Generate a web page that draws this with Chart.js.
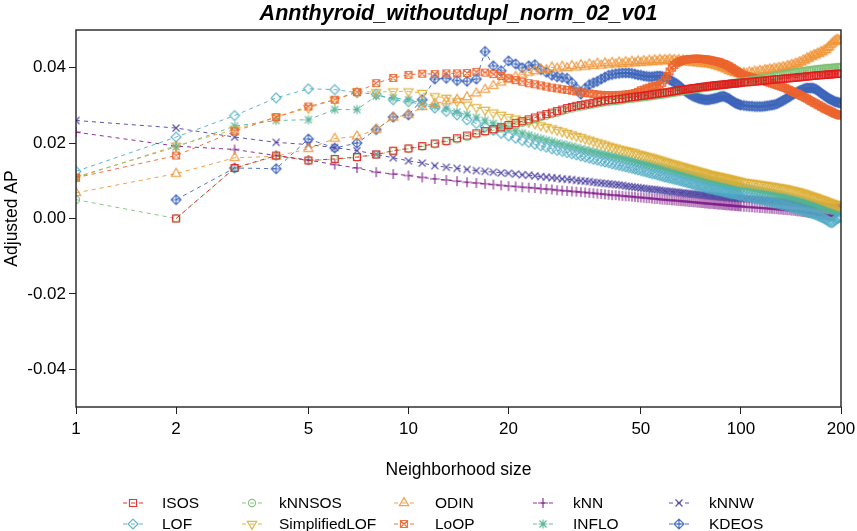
<!DOCTYPE html>
<html>
<head>
<meta charset="utf-8">
<script src="https://cdn.jsdelivr.net/npm/chart.js@4.4.1/dist/chart.umd.min.js"></script>
<style>
  html, body { margin: 0; padding: 0; background: #fff; }
  canvas { display: block; }
</style>
</head>
<body>
<canvas id="chart" width="857" height="531"></canvas>
<script>
const chartTitle = "Annthyroid_withoutdupl_norm_02_v01";
const xTitle = "Neighborhood size";
const yTitle = "Adjusted AP";
const xTicks = [1, 2, 5, 10, 20, 50, 100, 200];
const yTicks = [-0.04, -0.02, 0, 0.02, 0.04];

// neighborhood sizes k
const sizes = [
  1, 2, 3, 4, 5, 6, 7, 8, 9, 10,
  11, 12, 13, 14, 15, 16, 17, 18, 19, 20,
  21, 22, 23, 24, 25, 26, 27, 28, 29, 30,
  31, 32, 33, 34, 35, 36, 37, 38, 39, 40,
  41, 42, 43, 44, 45, 46, 47, 48, 49, 50,
  51, 52, 53, 54, 55, 56, 57, 58, 59, 60,
  61, 62, 63, 64, 65, 66, 67, 68, 69, 70,
  71, 72, 73, 74, 75, 76, 77, 78, 79, 80,
  81, 82, 83, 84, 85, 86, 87, 88, 89, 90,
  91, 92, 93, 94, 95, 96, 97, 98, 99, 100,
  102, 104, 106, 108, 110, 112, 114, 116, 118, 120,
  122, 124, 126, 128, 130, 132, 134, 136, 138, 140,
  142, 144, 146, 148, 150, 152, 154, 156, 158, 160,
  162, 164, 166, 168, 170, 172, 174, 176, 178, 180,
  182, 184, 186, 188, 190, 192, 194, 196, 198, 200
];

const isos = [
  null, 0.0000, 0.0134, 0.0167, 0.0154, 0.0158, 0.0163, 0.0170, 0.0180, 0.0186,
  0.0192, 0.0199, 0.0206, 0.0213, 0.0220, 0.0226, 0.0232, 0.0237, 0.0242, 0.0248,
  0.0253, 0.0258, 0.0263, 0.0268, 0.0273, 0.0277, 0.0281, 0.0285, 0.0289, 0.0293,
  0.0296, 0.0299, 0.0301, 0.0303, 0.0305, 0.0307, 0.0309, 0.0311, 0.0313, 0.0314,
  0.0315, 0.0316, 0.0317, 0.0318, 0.0320, 0.0321, 0.0322, 0.0323, 0.0324, 0.0325,
  0.0326, 0.0327, 0.0328, 0.0329, 0.0330, 0.0331, 0.0332, 0.0333, 0.0334, 0.0335,
  0.0336, 0.0337, 0.0338, 0.0339, 0.0340, 0.0341, 0.0342, 0.0343, 0.0343, 0.0344,
  0.0345, 0.0346, 0.0346, 0.0347, 0.0348, 0.0349, 0.0349, 0.0350, 0.0350, 0.0351,
  0.0352, 0.0352, 0.0353, 0.0353, 0.0354, 0.0354, 0.0355, 0.0355, 0.0355, 0.0356,
  0.0356, 0.0357, 0.0357, 0.0358, 0.0358, 0.0358, 0.0359, 0.0359, 0.0360, 0.0360,
  0.0361, 0.0361, 0.0362, 0.0363, 0.0363, 0.0364, 0.0365, 0.0365, 0.0366, 0.0367,
  0.0367, 0.0368, 0.0369, 0.0369, 0.0370, 0.0370, 0.0371, 0.0371, 0.0372, 0.0372,
  0.0373, 0.0373, 0.0374, 0.0374, 0.0375, 0.0375, 0.0376, 0.0376, 0.0377, 0.0377,
  0.0378, 0.0378, 0.0379, 0.0379, 0.0380, 0.0380, 0.0380, 0.0381, 0.0381, 0.0381,
  0.0382, 0.0382, 0.0382, 0.0383, 0.0383, 0.0383, 0.0384, 0.0384, 0.0384, 0.0384
];

const knnsos = [
  0.0050, 0.0000, 0.0133, 0.0166, 0.0154, 0.0157, 0.0162, 0.0169, 0.0179, 0.0185,
  0.0191, 0.0197, 0.0204, 0.0210, 0.0217, 0.0223, 0.0229, 0.0234, 0.0239, 0.0244,
  0.0249, 0.0254, 0.0259, 0.0264, 0.0269, 0.0273, 0.0277, 0.0281, 0.0285, 0.0289,
  0.0292, 0.0295, 0.0297, 0.0299, 0.0301, 0.0303, 0.0305, 0.0307, 0.0309, 0.0310,
  0.0311, 0.0312, 0.0313, 0.0314, 0.0316, 0.0317, 0.0318, 0.0319, 0.0320, 0.0321,
  0.0322, 0.0323, 0.0324, 0.0325, 0.0326, 0.0327, 0.0328, 0.0329, 0.0330, 0.0331,
  0.0332, 0.0333, 0.0334, 0.0335, 0.0336, 0.0337, 0.0338, 0.0339, 0.0340, 0.0341,
  0.0342, 0.0343, 0.0343, 0.0344, 0.0345, 0.0346, 0.0346, 0.0347, 0.0348, 0.0349,
  0.0349, 0.0350, 0.0351, 0.0351, 0.0352, 0.0353, 0.0353, 0.0354, 0.0355, 0.0355,
  0.0356, 0.0357, 0.0357, 0.0358, 0.0359, 0.0359, 0.0360, 0.0361, 0.0361, 0.0362,
  0.0363, 0.0365, 0.0366, 0.0367, 0.0368, 0.0369, 0.0371, 0.0372, 0.0373, 0.0374,
  0.0375, 0.0376, 0.0378, 0.0379, 0.0380, 0.0381, 0.0382, 0.0383, 0.0384, 0.0385,
  0.0386, 0.0387, 0.0388, 0.0388, 0.0389, 0.0390, 0.0391, 0.0391, 0.0392, 0.0393,
  0.0393, 0.0394, 0.0395, 0.0395, 0.0396, 0.0396, 0.0397, 0.0397, 0.0398, 0.0398,
  0.0399, 0.0399, 0.0399, 0.0400, 0.0400, 0.0400, 0.0401, 0.0401, 0.0401, 0.0401
];

const odin = [
  0.0068, 0.0119, 0.0161, 0.0165, 0.0185, 0.0212, 0.0218, 0.0236, 0.0268, 0.0275,
  0.0296, 0.0305, 0.0311, 0.0315, 0.0322, 0.0332, 0.0342, 0.0352, 0.0361, 0.0369,
  0.0376, 0.0382, 0.0387, 0.0391, 0.0396, 0.0394, 0.0401, 0.0398, 0.0403, 0.0399,
  0.0405, 0.0401, 0.0407, 0.0403, 0.0409, 0.0405, 0.0411, 0.0406, 0.0412, 0.0408,
  0.0413, 0.0409, 0.0414, 0.0410, 0.0415, 0.0411, 0.0416, 0.0412, 0.0417, 0.0413,
  0.0418, 0.0414, 0.0419, 0.0415, 0.0420, 0.0416, 0.0421, 0.0417, 0.0421, 0.0418,
  0.0422, 0.0418, 0.0421, 0.0417, 0.0421, 0.0416, 0.0420, 0.0415, 0.0419, 0.0414,
  0.0418, 0.0413, 0.0417, 0.0412, 0.0416, 0.0411, 0.0415, 0.0410, 0.0414, 0.0409,
  0.0412, 0.0407, 0.0410, 0.0405, 0.0407, 0.0402, 0.0404, 0.0399, 0.0400, 0.0396,
  0.0396, 0.0392, 0.0393, 0.0389, 0.0390, 0.0386, 0.0388, 0.0384, 0.0386, 0.0383,
  0.0386, 0.0384, 0.0388, 0.0386, 0.0390, 0.0388, 0.0392, 0.0390, 0.0394, 0.0393,
  0.0396, 0.0394, 0.0398, 0.0396, 0.0400, 0.0398, 0.0402, 0.0400, 0.0405, 0.0403,
  0.0408, 0.0406, 0.0411, 0.0410, 0.0415, 0.0414, 0.0420, 0.0419, 0.0425, 0.0424,
  0.0430, 0.0429, 0.0434, 0.0433, 0.0438, 0.0437, 0.0442, 0.0441, 0.0446, 0.0447,
  0.0452, 0.0455, 0.0460, 0.0464, 0.0468, 0.0471, 0.0474, 0.0473, 0.0472, 0.0470
];

const knn = [
  0.0229, 0.0192, 0.0183, 0.0167, 0.0155, 0.0143, 0.0134, 0.0123, 0.0118, 0.0114,
  0.0109, 0.0105, 0.0102, 0.0099, 0.0096, 0.0094, 0.0092, 0.0090, 0.0088, 0.0086,
  0.0085, 0.0083, 0.0082, 0.0081, 0.0079, 0.0078, 0.0077, 0.0075, 0.0074, 0.0073,
  0.0072, 0.0071, 0.0070, 0.0069, 0.0068, 0.0067, 0.0066, 0.0065, 0.0064, 0.0063,
  0.0062, 0.0062, 0.0061, 0.0060, 0.0059, 0.0059, 0.0058, 0.0057, 0.0056, 0.0056,
  0.0055, 0.0054, 0.0054, 0.0053, 0.0052, 0.0052, 0.0051, 0.0050, 0.0050, 0.0049,
  0.0049, 0.0048, 0.0048, 0.0047, 0.0047, 0.0046, 0.0046, 0.0045, 0.0045, 0.0044,
  0.0044, 0.0043, 0.0043, 0.0042, 0.0042, 0.0041, 0.0041, 0.0040, 0.0040, 0.0039,
  0.0039, 0.0039, 0.0038, 0.0038, 0.0037, 0.0037, 0.0037, 0.0036, 0.0036, 0.0035,
  0.0035, 0.0035, 0.0034, 0.0034, 0.0034, 0.0033, 0.0033, 0.0033, 0.0032, 0.0032,
  0.0031, 0.0031, 0.0030, 0.0030, 0.0029, 0.0029, 0.0028, 0.0028, 0.0027, 0.0027,
  0.0026, 0.0026, 0.0025, 0.0025, 0.0024, 0.0024, 0.0023, 0.0023, 0.0022, 0.0022,
  0.0021, 0.0021, 0.0020, 0.0019, 0.0019, 0.0018, 0.0017, 0.0017, 0.0016, 0.0015,
  0.0015, 0.0014, 0.0013, 0.0013, 0.0012, 0.0011, 0.0011, 0.0010, 0.0009, 0.0009,
  0.0008, 0.0008, 0.0007, 0.0007, 0.0009, 0.0014, 0.0020, 0.0024, 0.0027, 0.0028
];

const knnw = [
  0.0260, 0.0240, 0.0216, 0.0202, 0.0196, 0.0188, 0.0180, 0.0170, 0.0161, 0.0153,
  0.0147, 0.0140, 0.0136, 0.0133, 0.0130, 0.0127, 0.0125, 0.0123, 0.0121, 0.0120,
  0.0118, 0.0116, 0.0115, 0.0113, 0.0111, 0.0110, 0.0108, 0.0107, 0.0105, 0.0104,
  0.0103, 0.0101, 0.0100, 0.0099, 0.0098, 0.0096, 0.0095, 0.0094, 0.0093, 0.0092,
  0.0091, 0.0090, 0.0089, 0.0088, 0.0086, 0.0085, 0.0084, 0.0083, 0.0082, 0.0081,
  0.0080, 0.0079, 0.0078, 0.0077, 0.0077, 0.0076, 0.0075, 0.0074, 0.0073, 0.0072,
  0.0072, 0.0071, 0.0070, 0.0070, 0.0069, 0.0068, 0.0068, 0.0067, 0.0066, 0.0066,
  0.0065, 0.0065, 0.0064, 0.0064, 0.0063, 0.0063, 0.0062, 0.0062, 0.0061, 0.0061,
  0.0060, 0.0060, 0.0059, 0.0059, 0.0059, 0.0058, 0.0058, 0.0057, 0.0057, 0.0057,
  0.0056, 0.0056, 0.0056, 0.0055, 0.0055, 0.0055, 0.0054, 0.0054, 0.0054, 0.0053,
  0.0053, 0.0052, 0.0052, 0.0051, 0.0051, 0.0050, 0.0050, 0.0049, 0.0049, 0.0048,
  0.0048, 0.0047, 0.0047, 0.0046, 0.0046, 0.0045, 0.0045, 0.0044, 0.0044, 0.0043,
  0.0043, 0.0042, 0.0042, 0.0041, 0.0041, 0.0040, 0.0040, 0.0039, 0.0039, 0.0038,
  0.0037, 0.0037, 0.0036, 0.0036, 0.0035, 0.0034, 0.0034, 0.0033, 0.0032, 0.0032,
  0.0031, 0.0030, 0.0030, 0.0029, 0.0029, 0.0028, 0.0028, 0.0029, 0.0030, 0.0030
];

const lof = [
  0.0125, 0.0216, 0.0273, 0.0320, 0.0344, 0.0342, 0.0334, 0.0330, 0.0315, 0.0310,
  0.0302, 0.0293, 0.0284, 0.0275, 0.0262, 0.0252, 0.0243, 0.0234, 0.0226, 0.0219,
  0.0213, 0.0207, 0.0202, 0.0197, 0.0193, 0.0189, 0.0185, 0.0181, 0.0178, 0.0175,
  0.0172, 0.0169, 0.0166, 0.0163, 0.0160, 0.0157, 0.0155, 0.0152, 0.0150, 0.0148,
  0.0145, 0.0143, 0.0141, 0.0139, 0.0137, 0.0135, 0.0133, 0.0131, 0.0129, 0.0127,
  0.0125, 0.0123, 0.0121, 0.0119, 0.0118, 0.0116, 0.0114, 0.0112, 0.0110, 0.0109,
  0.0107, 0.0106, 0.0104, 0.0103, 0.0101, 0.0100, 0.0098, 0.0097, 0.0095, 0.0094,
  0.0092, 0.0091, 0.0089, 0.0088, 0.0087, 0.0085, 0.0084, 0.0083, 0.0081, 0.0080,
  0.0079, 0.0078, 0.0077, 0.0076, 0.0075, 0.0074, 0.0073, 0.0072, 0.0071, 0.0070,
  0.0069, 0.0068, 0.0067, 0.0066, 0.0066, 0.0065, 0.0064, 0.0063, 0.0062, 0.0061,
  0.0060, 0.0058, 0.0057, 0.0055, 0.0054, 0.0052, 0.0051, 0.0049, 0.0048, 0.0046,
  0.0045, 0.0043, 0.0042, 0.0040, 0.0039, 0.0037, 0.0036, 0.0034, 0.0033, 0.0031,
  0.0030, 0.0028, 0.0027, 0.0025, 0.0024, 0.0022, 0.0021, 0.0019, 0.0018, 0.0016,
  0.0015, 0.0013, 0.0012, 0.0010, 0.0008, 0.0006, 0.0004, 0.0002, 0.0000, -0.0002,
  -0.0005, -0.0008, -0.0010, -0.0011, -0.0008, -0.0004, -0.0001, 0.0001, 0.0002, 0.0003
];

const simplifiedLof = [
  0.0108, 0.0193, 0.0236, 0.0269, 0.0293, 0.0315, 0.0337, 0.0335, 0.0337, 0.0337,
  0.0333, 0.0324, 0.0320, 0.0311, 0.0302, 0.0295, 0.0288, 0.0281, 0.0275, 0.0269,
  0.0265, 0.0260, 0.0256, 0.0252, 0.0247, 0.0243, 0.0239, 0.0235, 0.0231, 0.0227,
  0.0223, 0.0219, 0.0216, 0.0212, 0.0209, 0.0205, 0.0202, 0.0199, 0.0196, 0.0193,
  0.0190, 0.0188, 0.0185, 0.0183, 0.0181, 0.0179, 0.0177, 0.0175, 0.0172, 0.0170,
  0.0168, 0.0166, 0.0164, 0.0162, 0.0160, 0.0158, 0.0156, 0.0154, 0.0152, 0.0150,
  0.0148, 0.0146, 0.0145, 0.0143, 0.0141, 0.0139, 0.0138, 0.0136, 0.0134, 0.0133,
  0.0131, 0.0130, 0.0128, 0.0127, 0.0125, 0.0124, 0.0123, 0.0121, 0.0120, 0.0118,
  0.0117, 0.0116, 0.0115, 0.0114, 0.0113, 0.0112, 0.0111, 0.0110, 0.0109, 0.0108,
  0.0107, 0.0106, 0.0105, 0.0104, 0.0103, 0.0102, 0.0101, 0.0100, 0.0099, 0.0098,
  0.0097, 0.0096, 0.0095, 0.0094, 0.0093, 0.0092, 0.0091, 0.0090, 0.0089, 0.0088,
  0.0087, 0.0086, 0.0085, 0.0084, 0.0083, 0.0082, 0.0081, 0.0080, 0.0079, 0.0077,
  0.0076, 0.0075, 0.0073, 0.0072, 0.0071, 0.0069, 0.0068, 0.0066, 0.0064, 0.0063,
  0.0061, 0.0060, 0.0058, 0.0057, 0.0055, 0.0053, 0.0052, 0.0050, 0.0049, 0.0047,
  0.0045, 0.0044, 0.0042, 0.0041, 0.0039, 0.0038, 0.0037, 0.0035, 0.0034, 0.0034
];

const loop = [
  0.0108, 0.0167, 0.0231, 0.0269, 0.0297, 0.0315, 0.0335, 0.0359, 0.0373, 0.0381,
  0.0384, 0.0383, 0.0385, 0.0385, 0.0386, 0.0389, 0.0387, 0.0383, 0.0378, 0.0372,
  0.0367, 0.0363, 0.0359, 0.0356, 0.0353, 0.0350, 0.0347, 0.0345, 0.0343, 0.0341,
  0.0339, 0.0337, 0.0335, 0.0333, 0.0332, 0.0330, 0.0329, 0.0328, 0.0327, 0.0327,
  0.0327, 0.0327, 0.0328, 0.0328, 0.0329, 0.0330, 0.0331, 0.0333, 0.0336, 0.0340,
  0.0342, 0.0345, 0.0347, 0.0350, 0.0351, 0.0352, 0.0355, 0.0360, 0.0368, 0.0378,
  0.0390, 0.0400, 0.0407, 0.0412, 0.0415, 0.0418, 0.0420, 0.0421, 0.0422, 0.0423,
  0.0423, 0.0424, 0.0424, 0.0424, 0.0424, 0.0423, 0.0423, 0.0422, 0.0422, 0.0421,
  0.0420, 0.0419, 0.0418, 0.0417, 0.0416, 0.0415, 0.0413, 0.0411, 0.0410, 0.0408,
  0.0406, 0.0404, 0.0401, 0.0399, 0.0396, 0.0393, 0.0391, 0.0388, 0.0386, 0.0384,
  0.0381, 0.0378, 0.0376, 0.0374, 0.0372, 0.0370, 0.0368, 0.0366, 0.0364, 0.0362,
  0.0360, 0.0358, 0.0356, 0.0354, 0.0352, 0.0350, 0.0348, 0.0346, 0.0343, 0.0341,
  0.0338, 0.0336, 0.0333, 0.0331, 0.0328, 0.0325, 0.0323, 0.0320, 0.0318, 0.0315,
  0.0312, 0.0310, 0.0307, 0.0305, 0.0302, 0.0300, 0.0297, 0.0295, 0.0292, 0.0290,
  0.0288, 0.0286, 0.0284, 0.0282, 0.0280, 0.0278, 0.0277, 0.0275, 0.0274, 0.0273
];

const inflo = [
  0.0110, 0.0190, 0.0245, 0.0260, 0.0262, 0.0289, 0.0289, 0.0325, 0.0320, 0.0315,
  0.0306, 0.0298, 0.0292, 0.0282, 0.0276, 0.0268, 0.0260, 0.0252, 0.0245, 0.0238,
  0.0232, 0.0226, 0.0221, 0.0216, 0.0212, 0.0208, 0.0204, 0.0200, 0.0197, 0.0194,
  0.0191, 0.0188, 0.0185, 0.0182, 0.0180, 0.0177, 0.0175, 0.0172, 0.0170, 0.0168,
  0.0166, 0.0164, 0.0162, 0.0160, 0.0158, 0.0156, 0.0154, 0.0152, 0.0150, 0.0148,
  0.0146, 0.0144, 0.0143, 0.0141, 0.0139, 0.0137, 0.0136, 0.0134, 0.0132, 0.0131,
  0.0129, 0.0128, 0.0126, 0.0125, 0.0123, 0.0122, 0.0120, 0.0119, 0.0117, 0.0116,
  0.0114, 0.0113, 0.0112, 0.0110, 0.0109, 0.0108, 0.0106, 0.0105, 0.0104, 0.0102,
  0.0101, 0.0100, 0.0099, 0.0098, 0.0097, 0.0096, 0.0095, 0.0094, 0.0093, 0.0092,
  0.0091, 0.0090, 0.0089, 0.0088, 0.0088, 0.0087, 0.0086, 0.0085, 0.0084, 0.0083,
  0.0082, 0.0080, 0.0079, 0.0077, 0.0076, 0.0075, 0.0073, 0.0072, 0.0071, 0.0070,
  0.0068, 0.0067, 0.0066, 0.0064, 0.0063, 0.0062, 0.0060, 0.0059, 0.0058, 0.0056,
  0.0055, 0.0054, 0.0052, 0.0051, 0.0049, 0.0048, 0.0047, 0.0045, 0.0044, 0.0042,
  0.0041, 0.0039, 0.0038, 0.0036, 0.0035, 0.0033, 0.0032, 0.0030, 0.0029, 0.0027,
  0.0026, 0.0025, 0.0023, 0.0022, 0.0021, 0.0020, 0.0019, 0.0018, 0.0017, 0.0016
];

const kdeos = [
  null, 0.0050, 0.0134, 0.0132, 0.0211, 0.0187, 0.0200, 0.0236, 0.0269, 0.0275,
  0.0315, 0.0370, 0.0372, 0.0366, 0.0364, 0.0370, 0.0443, 0.0405, 0.0392, 0.0418,
  0.0410, 0.0400, 0.0405, 0.0408, 0.0395, 0.0388, 0.0380, 0.0376, 0.0374, 0.0372,
  0.0360, 0.0345, 0.0330, 0.0345, 0.0355, 0.0360, 0.0364, 0.0370, 0.0375, 0.0380,
  0.0382, 0.0384, 0.0385, 0.0386, 0.0386, 0.0386, 0.0385, 0.0383, 0.0381, 0.0380,
  0.0378, 0.0377, 0.0376, 0.0376, 0.0377, 0.0378, 0.0378, 0.0377, 0.0375, 0.0372,
  0.0368, 0.0365, 0.0361, 0.0358, 0.0353, 0.0348, 0.0343, 0.0338, 0.0334, 0.0330,
  0.0327, 0.0324, 0.0322, 0.0320, 0.0318, 0.0317, 0.0316, 0.0315, 0.0315, 0.0315,
  0.0316, 0.0317, 0.0318, 0.0319, 0.0320, 0.0322, 0.0323, 0.0324, 0.0324, 0.0322,
  0.0320, 0.0318, 0.0315, 0.0312, 0.0310, 0.0307, 0.0305, 0.0304, 0.0302, 0.0301,
  0.0300, 0.0299, 0.0298, 0.0298, 0.0297, 0.0297, 0.0297, 0.0297, 0.0298, 0.0299,
  0.0300, 0.0301, 0.0302, 0.0304, 0.0307, 0.0310, 0.0313, 0.0316, 0.0320, 0.0323,
  0.0327, 0.0330, 0.0333, 0.0336, 0.0339, 0.0341, 0.0343, 0.0345, 0.0346, 0.0346,
  0.0346, 0.0346, 0.0345, 0.0343, 0.0340, 0.0337, 0.0333, 0.0330, 0.0327, 0.0324,
  0.0321, 0.0318, 0.0316, 0.0314, 0.0312, 0.0310, 0.0309, 0.0308, 0.0307, 0.0306
];

const FONT = '"Liberation Sans", Arial, Helvetica, sans-serif';

// R-like plotting symbols drawn once on small canvases
function makeMarker(pch, rgb) {
  const c = document.createElement("canvas");
  c.width = 16;
  c.height = 16;
  const g = c.getContext("2d");
  g.strokeStyle = `rgba(${rgb},0.9)`;
  g.lineWidth = 1.2;
  const x = 8, y = 8, s = 3.5, d = s * Math.SQRT2;
  const square = () => g.rect(x - s, y - s, 2 * s, 2 * s);
  const diamond = () => {
    g.moveTo(x, y - d); g.lineTo(x + d, y); g.lineTo(x, y + d); g.lineTo(x - d, y); g.closePath();
  };
  const plus = (r) => { g.moveTo(x - r, y); g.lineTo(x + r, y); g.moveTo(x, y - r); g.lineTo(x, y + r); };
  const times = (r) => { g.moveTo(x - r, y - r); g.lineTo(x + r, y + r); g.moveTo(x + r, y - r); g.lineTo(x - r, y + r); };
  g.beginPath();
  switch (pch) {
    case 0: square(); break;
    case 1: g.arc(x, y, 3.6, 0, Math.PI * 2); break;
    case 2: g.moveTo(x, y - 5.4); g.lineTo(x + 4.7, y + 2.7); g.lineTo(x - 4.7, y + 2.7); g.closePath(); break;
    case 3: plus(d); break;
    case 4: times(s); break;
    case 5: diamond(); break;
    case 6: g.moveTo(x, y + 5.4); g.lineTo(x + 4.7, y - 2.7); g.lineTo(x - 4.7, y - 2.7); g.closePath(); break;
    case 7: square(); times(s); break;
    case 8: plus(4.4); times(s); break;
    case 9: diamond(); plus(d); break;
  }
  g.stroke();
  return c;
}

const series = [
  { name: "ISOS", values: isos, rgb: "226,30,30", pch: 0, order: 0 },
  { name: "kNNSOS", values: knnsos, rgb: "122,192,112", pch: 1, order: 1 },
  { name: "ODIN", values: odin, rgb: "240,150,58", pch: 2, order: 3 },
  { name: "kNN", values: knn, rgb: "130,30,140", pch: 3, order: 7 },
  { name: "kNNW", values: knnw, rgb: "75,65,160", pch: 4, order: 8 },
  { name: "LOF", values: lof, rgb: "80,172,196", pch: 5, order: 5 },
  { name: "SimplifiedLOF", values: simplifiedLof, rgb: "222,175,55", pch: 6, order: 4 },
  { name: "LoOP", values: loop, rgb: "236,100,45", pch: 7, order: 2 },
  { name: "INFLO", values: inflo, rgb: "84,180,150", pch: 8, order: 6 },
  { name: "KDEOS", values: kdeos, rgb: "60,100,185", pch: 9, order: 9 },
];
series.forEach((s) => { s.icon = makeMarker(s.pch, s.rgb); });

const legendRows = [
  ["ISOS", "kNNSOS", "ODIN", "kNN", "kNNW"],
  ["LOF", "SimplifiedLOF", "LoOP", "INFLO", "KDEOS"],
];

const decorations = {
  id: "decorations",
  afterDraw(chart) {
    const { ctx, chartArea: a } = chart;
    const cx = (a.left + a.right) / 2;
    ctx.save();
    ctx.strokeStyle = "#222";
    ctx.lineWidth = 1.4;
    ctx.setLineDash([]);
    ctx.strokeRect(a.left, a.top, a.right - a.left, a.bottom - a.top);

    ctx.fillStyle = "#000";
    ctx.textAlign = "center";
    ctx.textBaseline = "alphabetic";
    ctx.font = `italic bold 21.5px ${FONT}`;
    ctx.fillText(chartTitle, cx, 20);

    ctx.font = `17.5px ${FONT}`;
    ctx.fillText(xTitle, cx, 475);

    ctx.save();
    ctx.translate(17, (a.top + a.bottom) / 2);
    ctx.rotate(-Math.PI / 2);
    ctx.fillText(yTitle, 0, 0);
    ctx.restore();

    // legend
    const markerX = [133, 252, 404, 543, 679];
    const textX = [162, 279, 435, 573, 709];
    const rowY = [503, 524];
    ctx.font = `15.5px ${FONT}`;
    ctx.textAlign = "left";
    ctx.textBaseline = "middle";
    legendRows.forEach((row, r) => {
      row.forEach((name, c) => {
        const s = series.find((d) => d.name === name);
        const y = rowY[r];
        ctx.strokeStyle = `rgba(${s.rgb},0.9)`;
        ctx.lineWidth = 1;
        ctx.setLineDash([4, 4]);
        ctx.beginPath();
        ctx.moveTo(markerX[c] - 10, y);
        ctx.lineTo(markerX[c] + 10, y);
        ctx.stroke();
        ctx.setLineDash([]);
        ctx.drawImage(s.icon, markerX[c] - 8, y - 8);
        ctx.fillStyle = "#000";
        ctx.fillText(name, textX[c], y + 1);
      });
    });
    ctx.restore();
  },
};

const tickFont = { family: FONT, size: 17 };

new Chart(document.getElementById("chart"), {
  type: "line",
  data: {
    datasets: series.map((s) => ({
      label: s.name,
      data: sizes.map((k, i) => ({ x: k, y: s.values[i] })),
      borderColor: `rgba(${s.rgb},0.9)`,
      borderWidth: 1,
      borderDash: [4, 4],
      pointStyle: s.icon,
      pointRadius: 4,
      fill: false,
      tension: 0,
      order: s.order,
    })),
  },
  options: {
    responsive: false,
    animation: false,
    devicePixelRatio: 1,
    events: [],
    layout: { padding: { left: 0, right: 16, top: 30, bottom: 0 } },
    plugins: {
      legend: { display: false },
      tooltip: { enabled: false },
      title: { display: false },
    },
    scales: {
      x: {
        type: "logarithmic",
        min: 1,
        max: 200,
        afterFit: (scale) => {
          scale.height = 124;
          scale.paddingLeft = 0;
          scale.paddingRight = 0;
        },
        afterBuildTicks: (scale) => { scale.ticks = xTicks.map((v) => ({ value: v })); },
        grid: { drawOnChartArea: false, drawTicks: true, tickLength: 7, tickColor: "#222", lineWidth: 1 },
        border: { display: false },
        ticks: {
          autoSkip: false,
          maxRotation: 0,
          padding: 5,
          color: "#000",
          font: tickFont,
          callback: (v) => String(v),
        },
      },
      y: {
        min: -0.05,
        max: 0.05,
        afterFit: (scale) => {
          scale.width = 76;
          scale.paddingTop = 0;
          scale.paddingBottom = 0;
        },
        afterBuildTicks: (scale) => { scale.ticks = yTicks.map((v) => ({ value: v })); },
        grid: { drawOnChartArea: false, drawTicks: true, tickLength: 7, tickColor: "#222", lineWidth: 1 },
        border: { display: false },
        ticks: {
          padding: 3,
          color: "#000",
          font: tickFont,
          callback: (v) => v.toFixed(2),
        },
      },
    },
  },
  plugins: [decorations],
});
</script>
</body>
</html>
